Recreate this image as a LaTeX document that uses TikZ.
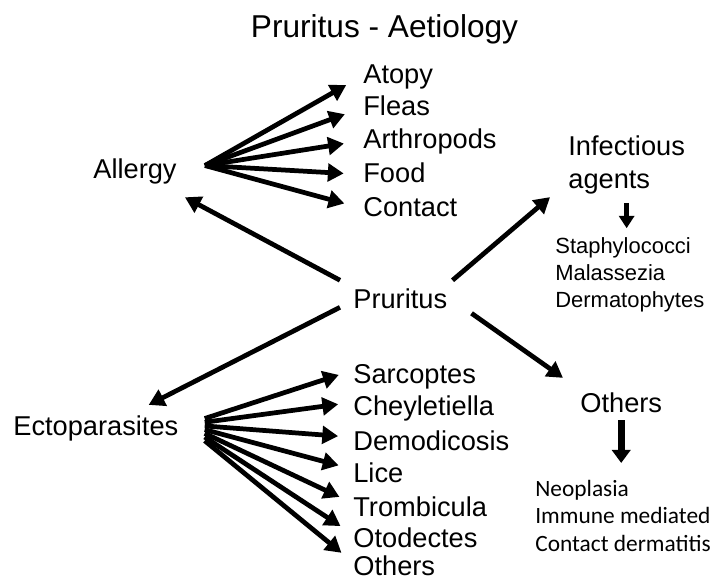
\documentclass[tikz,border=0pt]{standalone}
\usepackage{fontspec}
\setmainfont{Liberation Sans}
\newfontfamily\carlitofont{Carlito}
\usetikzlibrary{arrows.meta, calc}
\tikzset{
  >=Triangle,
  mainarrow/.style={-{Triangle[length=9pt, width=10pt]}, line width=2.7pt},
  fanarrow/.style={-{Triangle[length=9pt, width=10pt]}, line width=2.7pt, shorten >=11pt},
  downarrow/.style={-{Triangle[length=7pt, width=8.5pt]}, line width=2.6pt, shorten <=5pt, shorten >=5pt},
  bigdownarrow/.style={-{Triangle[length=7.5pt, width=10.5pt]}, line width=4pt, shorten <=1.5pt, shorten >=9.7pt},
  itemlabel/.style={anchor=base west, inner sep=0pt, font=\fontsize{15.5}{18.8}\selectfont, text height=11.6pt, text depth=3.1pt},
  smalllist/.style={anchor=north west, inner sep=0pt, align=left, font=\fontsize{12.5}{15.4}\selectfont}
}

\begin{document}
\begin{tikzpicture}[x=0.02cm, y=-0.02cm]
    \useasboundingbox (0,0) rectangle (713,582);

    % --- TITLE ---
    \node[anchor=base, font=\fontsize{18}{22}\selectfont] (title) at (384.5,37) {Pruritus - Aetiology};

    % --- CENTRE ---
    \node[itemlabel] (pruritus) at (353,308) {Pruritus};

    % --- ALLERGY ---
    \node[itemlabel] (allergy) at (93,178) {Allergy};
    \node[itemlabel] (atopy) at (363,83) {Atopy};
    \node[itemlabel] (fleas) at (363,115) {Fleas};
    \node[itemlabel] (arthropods) at (363,148) {Arthropods};
    \node[itemlabel] (food) at (363,182) {Food};
    \node[itemlabel] (contact) at (363,216) {Contact};
    \coordinate (allhub) at ($(allergy.east)+(28,-5)$);
    \foreach \n in {atopy, fleas, arthropods, food, contact}
        \draw[fanarrow] (allhub) -- (\n.west);

    % --- ECTOPARASITES ---
    \node[itemlabel] (ecto) at (13,435) {Ectoparasites};
    \node[itemlabel] (sarcoptes) at (353,383) {Sarcoptes};
    \node[itemlabel] (cheyletiella) at (353,415) {Cheyletiella};
    \node[itemlabel] (demodicosis) at (353,450) {Demodicosis};
    \node[itemlabel] (lice) at (353,482) {Lice};
    \node[itemlabel] (trombicula) at (353,516) {Trombicula};
    \node[itemlabel] (otodectes) at (353,547) {Otodectes};
    \node[itemlabel] (ectoothers) at (353,575) {Others};
    \coordinate (ectohub) at ($(ecto.east)+(26,-9)$);
    \foreach \n [count=\i from 0] in {sarcoptes, cheyletiella, demodicosis, lice, trombicula, otodectes, ectoothers}
        \draw[fanarrow, shorten >=8.5pt] ($(ectohub)+(0,3.7*\i)$) -- ([yshift=3pt]\n.west);

    % --- INFECTIOUS AGENTS ---
    \node[anchor=north west, inner sep=0pt, align=left, font=\fontsize{15.5}{18.8}\selectfont] (infect) at (568,135) {Infectious\\agents};
    \node[smalllist] (staph) at (555,237) {Staphylococci\\Malassezia\\Dermatophytes};
    \draw[downarrow] (infect.south) -- (infect.south |- staph.north);

    % --- OTHERS ---
    \node[itemlabel] (others) at (580,412) {Others};
    \node[smalllist, font=\carlitofont\fontsize{13.3}{15.6}\selectfont] (otherlist) at (535,480) {Neoplasia\\Immune mediated\\Contact dermatitis};
    \draw[bigdownarrow] (others.south) -- (others.south |- otherlist.north);

    % --- PRURITUS TO GROUPS ---
    \draw[mainarrow] ($(pruritus.north west)+(-13,-7)$) -- ($(allergy.south east)+(8,13.5)$);
    \draw[mainarrow] ($(pruritus.south west)+(-13,-6.5)$) -- ($(ecto.north east)+(-30,-9.4)$);
    \draw[mainarrow] ($(pruritus.north east)+(5,-7)$) -- ($(infect.south west)+(-18,3)$);
    \draw[mainarrow] ($(pruritus.south east)+(24,-0.5)$) -- ($(others.north west)+(-17,-13.4)$);
\end{tikzpicture}
\end{document}
